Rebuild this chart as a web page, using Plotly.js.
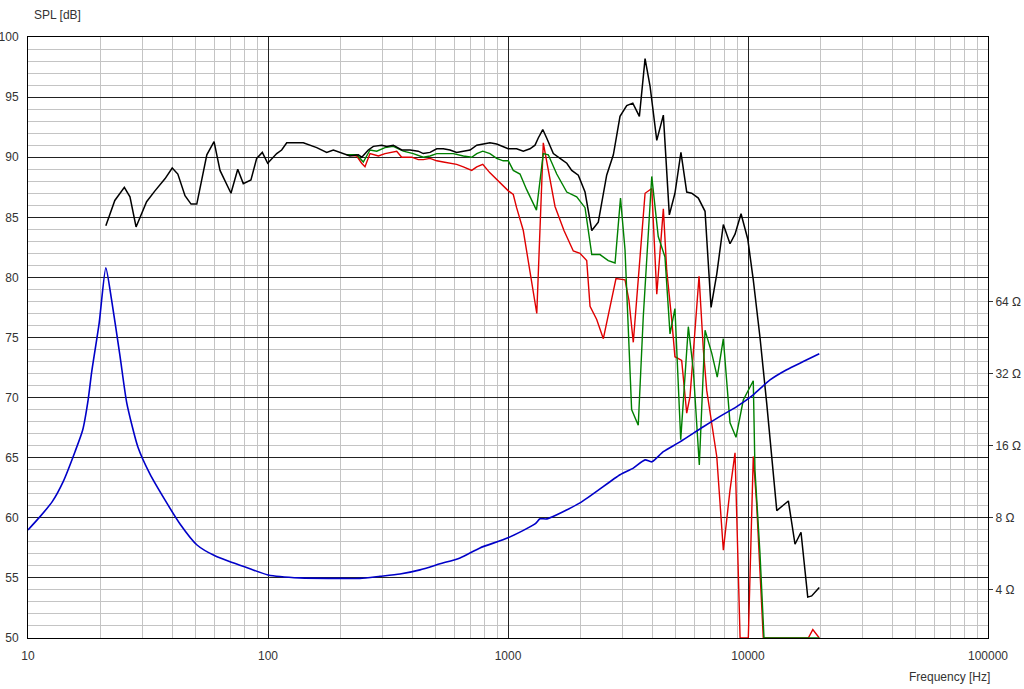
<!DOCTYPE html>
<html><head><meta charset="utf-8">
<script src="https://cdn.plot.ly/plotly-3.0.1.min.js"></script>
<style>html,body{margin:0;padding:0;background:#fff;}#chart{width:1024px;height:689px;}</style>
</head><body><div id="chart"></div>
<script>
// SPL (black) – total response
const blackFreq = [21.1, 23.0, 25.2, 26.6, 28.2, 31.2, 33.8, 37.2, 39.9, 42.1,
  45.1, 47.8, 50.5, 55.6, 59.6, 63.1, 70.1, 74.8, 78.9, 84.9,
  89.7, 94.7, 99.7, 108.7, 114, 119.7, 129.6, 140.3, 159.6, 175.6,
  187.2, 206, 219.6, 237.9, 245.8, 261.8, 274.8, 297.7, 312.6, 332.7,
  360.8, 390.8, 422.7, 443.6, 473.2, 504.7, 537.5, 573.2, 611, 651.6,
  695, 741, 789, 841, 897, 955, 1002, 1086, 1158, 1235,
  1296, 1337, 1396, 1449, 1545, 1675, 1758, 1843, 1963, 2094,
  2234, 2378, 2577, 2748, 2929, 3124, 3311, 3527, 3725, 3908,
  4168, 4439, 4701, 4961, 5255, 5555, 5824, 6209, 6622, 7015,
  7413, 7893, 8414, 8830, 9354, 9975, 10520, 11220, 11970, 13180,
  14730, 15700, 16630, 17740, 18420, 19820];
const blackSpl = [84.3, 86.4, 87.5, 86.7, 84.2, 86.3, 87.2, 88.2, 89.1, 88.6,
  86.8, 86.1, 86.1, 90.2, 91.3, 88.9, 87.0, 89.0, 87.8, 88.1,
  89.9, 90.4, 89.5, 90.3, 90.6, 91.2, 91.2, 91.2, 90.8, 90.4,
  90.6, 90.3, 90.1, 90.2, 90.0, 90.6, 90.9, 91.0, 90.9, 91.0,
  90.6, 90.6, 90.5, 90.3, 90.4, 90.7, 90.7, 90.6, 90.4, 90.5,
  90.6, 91.0, 91.1, 91.2, 91.1, 90.9, 90.7, 90.7, 90.5, 90.7,
  91.0, 91.6, 92.3, 91.6, 90.3, 89.8, 89.5, 88.9, 88.5, 87.1,
  83.9, 84.6, 88.5, 90.2, 93.4, 94.3, 94.5, 93.4, 98.2, 95.9,
  91.4, 93.5, 85.2, 87.0, 90.4, 87.1, 87.0, 86.6, 85.5, 77.5,
  80.3, 84.4, 82.8, 83.6, 85.3, 83.2, 79.8, 75.0, 69.5, 60.6,
  61.4, 57.8, 58.8, 53.4, 53.5, 54.2];

// SPL (red)
const redFreq = [212.8, 234.3, 245.6, 253.6, 266.1, 288.4, 307.3, 322.3, 343.8, 360.6,
  378.4, 397, 423, 443.6, 473.2, 504.7, 537.5, 573.2, 611, 651.6,
  706, 741, 785, 841, 926, 1003, 1052, 1086, 1158, 1235,
  1318, 1403, 1483, 1570, 1711, 1871, 1995, 2128, 2197, 2342,
  2496, 2637, 2818, 3073, 3191, 3327, 3548, 3725, 3972, 4168,
  4439, 4584, 4810, 4961, 5292, 5555, 5734, 6252, 6515, 6730,
  7410, 7893, 8414, 8830, 9268, 10030, 10520, 10860, 11580, 17830,
  18620, 19820];
const redSpl = [90.2, 90.1, 89.5, 89.2, 90.3, 90.1, 90.3, 90.4, 90.5, 90.0,
  90.0, 90.0, 89.8, 89.8, 89.9, 89.7, 89.6, 89.5, 89.4, 89.2,
  88.9, 89.2, 89.4, 88.7, 87.9, 87.2, 86.9, 85.8, 83.9, 80.6,
  77.0, 91.2, 88.5, 85.9, 83.9, 82.2, 82.0, 81.4, 77.6, 76.5,
  74.9, 77.3, 79.9, 79.8, 78.1, 74.6, 81.4, 87.0, 87.4, 78.6,
  85.7, 80.6, 76.5, 73.4, 73.1, 68.7, 70.1, 80.1, 74.0, 70.6,
  65.1, 57.3, 62.3, 65.4, 50, 50, 65.1, 61.2, 50, 50,
  50.7, 50];

// SPL (green)
const greenFreq = [212.8, 234.3, 249.5, 266.1, 283.8, 307.3, 332.7, 366.2, 403, 443.6,
  473.2, 504.7, 537.5, 591.5, 651.6, 706, 741, 785, 841, 897,
  955, 1003, 1052, 1122, 1196, 1314, 1403, 1472, 1596, 1757,
  1933, 2094, 2234, 2417, 2617, 2793, 2943, 3073, 3274, 3489,
  3661, 3972, 4227, 4508, 4732, 4961, 5244, 5641, 5918, 6268,
  6622, 7061, 7446, 7893, 8414, 8913, 9556, 10520, 10690, 11220,
  11660, 19820];
const greenSpl = [90.2, 90.2, 89.6, 90.6, 90.5, 90.8, 90.9, 90.5, 90.3, 90.0,
  90.1, 90.3, 90.3, 90.3, 90.1, 90.0, 90.3, 90.5, 90.3, 89.9,
  89.7, 89.7, 88.9, 88.6, 87.3, 85.6, 90.3, 90.2, 88.6, 87.1,
  86.7, 85.8, 81.9, 81.9, 81.4, 81.2, 86.6, 82.3, 69.0, 67.7,
  76.7, 88.4, 83.4, 81.7, 75.3, 77.4, 66.5, 75.9, 72.3, 64.4,
  75.6, 73.7, 71.7, 74.9, 67.9, 66.7, 69.8, 71.4, 64.0, 57.0,
  50, 50];

// Impedance (blue), ohms
const impFreq = [10, 11.2, 12.6, 14.0, 15.7, 16.9, 17.8, 18.4, 19.8, 21.1,
  22.3, 24.2, 25.8, 28.7, 32.2, 37.2, 43.0, 50.6, 60.1, 71.5,
  84.1, 100, 135.9, 199.5, 241.6, 293, 354.8, 430, 521, 631,
  764, 1000, 1296, 1359, 1454, 1995, 2929, 3327, 3725, 3972,
  4439, 5208, 6515, 7643, 8974, 10520, 12350, 14490, 16990, 19820];
const impOhm = [7.12, 8.07, 9.32, 11.3, 15.1, 18.6, 24.8, 32.2, 52.1, 88.4,
  65.0, 37.6, 24.1, 15.8, 12.2, 9.5, 7.54, 6.16, 5.55, 5.19,
  4.9, 4.62, 4.49, 4.47, 4.47, 4.56, 4.66, 4.85, 5.14, 5.44,
  5.99, 6.6, 7.54, 7.92, 7.92, 9.23, 12.1, 12.9, 13.96, 13.7,
  15.1, 16.6, 19.2, 21.2, 23.3, 26.1, 30.1, 33.2, 35.9, 38.7];

const xMajor = [10, 100, 1000, 10000, 100000];
const xLabels = ['10', '100', '1000', '10000', '100000'];
const ohmTicks = [4, 8, 16, 32, 64];
const ohmLabels = ['4 Ω', '8 Ω', '16 Ω', '32 Ω', '64 Ω'];

const xMinor = [];
for (let d = 10; d < 100000; d *= 10) for (let k = 2; k <= 9; k++) xMinor.push(d * k);

const font = {family: 'Liberation Sans, Arial, sans-serif', size: 12, color: '#333'};

const traces = [
  {x: impFreq, y: impOhm, yaxis: 'y2', type: 'scatter', mode: 'lines', line: {color: '#0000c8', width: 1.6, shape: 'spline', smoothing: 0.6}},
  {x: redFreq, y: redSpl, type: 'scatter', mode: 'lines', line: {color: '#e00000', width: 1.4}},
  {x: greenFreq, y: greenSpl, type: 'scatter', mode: 'lines', line: {color: '#008000', width: 1.4}},
  {x: blackFreq, y: blackSpl, type: 'scatter', mode: 'lines', line: {color: '#000000', width: 1.5}}
];

const layout = {
  width: 1024, height: 689,
  margin: {l: 28, r: 36, t: 37, b: 51},
  paper_bgcolor: '#fff', plot_bgcolor: '#fff',
  showlegend: false,
  font: font,
  xaxis: {
    type: 'log', range: [1, 5],
    tickvals: xMajor, ticktext: xLabels,
    showgrid: true, gridcolor: '#222', gridwidth: 1,
    minor: {tickvals: xMinor, showgrid: true, gridcolor: '#c4c4c4', gridwidth: 1, ticks: ''},
    ticks: '', ticklabelstandoff: 7,
    showline: true, linecolor: '#000', linewidth: 1, mirror: true,
    zeroline: false, tickfont: font
  },
  yaxis: {
    range: [50, 100], tick0: 50, dtick: 5,
    showgrid: true, gridcolor: '#222', gridwidth: 1,
    minor: {dtick: 1, showgrid: true, gridcolor: '#c4c4c4', gridwidth: 1, ticks: ''},
    ticks: '', ticklabelstandoff: 6,
    showline: true, linecolor: '#000', linewidth: 1, mirror: true,
    zeroline: false, tickfont: font
  },
  yaxis2: {
    overlaying: 'y', side: 'right', type: 'log',
    range: [Math.log10(4 * Math.pow(2, -4 / 6)), Math.log10(4 * Math.pow(2, 46 / 6))],
    tickvals: ohmTicks, ticktext: ohmLabels,
    ticks: 'outside', ticklen: 4, tickcolor: '#333',
    showgrid: false, zeroline: false, showline: false, tickfont: font
  },
  annotations: [
    {text: 'SPL [dB]', xref: 'paper', yref: 'paper', x: 0.004, y: 1.0366, xanchor: 'left', yanchor: 'middle', showarrow: false, font: font},
    {text: 'Frequency [Hz]', xref: 'paper', yref: 'paper', x: 1.0042, y: -0.0649, xanchor: 'right', yanchor: 'middle', showarrow: false, font: font}
  ]
};

Plotly.newPlot('chart', traces, layout, {displayModeBar: false, staticPlot: true});
</script>
</body></html>
